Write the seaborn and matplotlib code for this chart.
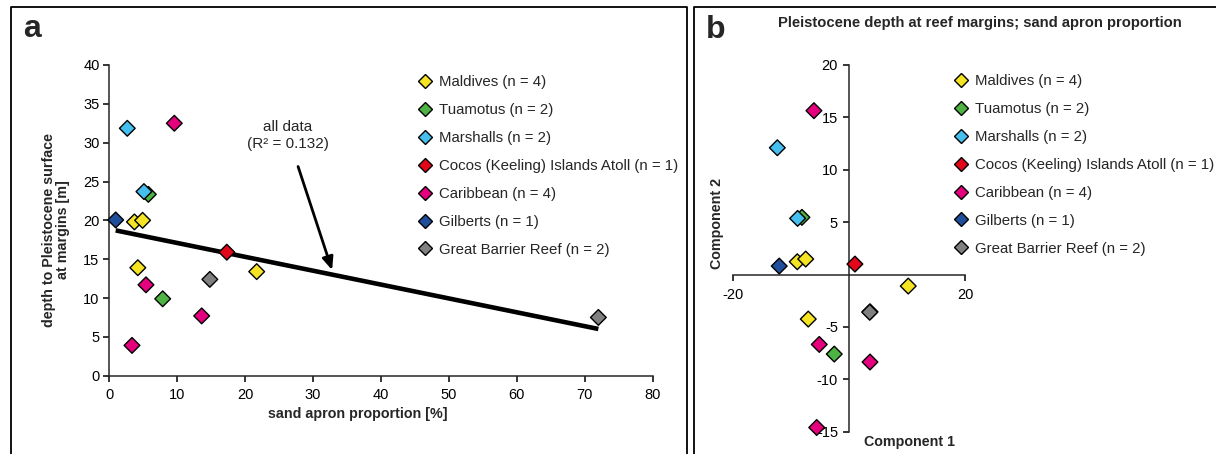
import numpy as np
import pandas as pd
import matplotlib
matplotlib.use("Agg")
import matplotlib.pyplot as plt
from matplotlib.lines import Line2D
import seaborn as sns

# ---- data -------------------------------------------------------------
regions = ["Maldives", "Tuamotus", "Marshalls", "Cocos (Keeling) Islands Atoll",
           "Caribbean", "Gilberts", "Great Barrier Reef"]
region_n = [4, 2, 2, 1, 4, 1, 2]
region_colors = ["#F4E423", "#4DB342", "#45BFEE", "#E3071A",
                 "#E5007D", "#1F4E9B", "#808080"]

# panel a: sand apron proportion [%] vs depth to Pleistocene surface [m]
site_region = ["Maldives", "Maldives", "Maldives", "Maldives",
               "Tuamotus", "Tuamotus",
               "Marshalls", "Marshalls",
               "Cocos (Keeling) Islands Atoll",
               "Caribbean", "Caribbean", "Caribbean", "Caribbean",
               "Gilberts",
               "Great Barrier Reef", "Great Barrier Reef"]
sand_apron = [3.7, 4.9, 4.2, 21.7,
              5.75, 7.86,
              2.65, 5.1,
              17.3,
              9.57, 5.4, 13.6, 3.34,
              0.94,
              14.8, 72.0]
depth_margin = [19.8, 20.0, 13.9, 13.4,
                23.35, 9.9,
                31.85, 23.7,
                15.9,
                32.5, 11.7, 7.7, 3.9,
                20.05,
                12.4, 7.5]

# panel b: principal component scores
component_1 = [-8.96, -7.5, 10.2, -7.06,
               -8.15, -2.57,
               -12.4, -8.9,
               1.0,
               -6.08, -5.16, 3.6, -5.6,
               -12.07,
               3.6, 3.55]
component_2 = [1.22, 1.48, -1.1, -4.25,
               5.46, -7.59,
               12.1, 5.36,
               1.0,
               15.64, -6.67, -8.35, -14.6,
               0.81,
               -3.55, -3.6]

r_squared_label = "all data\n(R\u00b2 = 0.132)"

# ---- style ------------------------------------------------------------
sns.set_style("ticks")
plt.rcParams["font.family"] = ["Liberation Sans", "DejaVu Sans"]
plt.rcParams["axes.linewidth"] = 1.1
plt.rcParams["axes.unicode_minus"] = False

palette = dict(zip(regions, region_colors))
df_a = pd.DataFrame({"region": site_region, "sand": sand_apron, "depth": depth_margin})
df_b = pd.DataFrame({"region": site_region, "pc1": component_1, "pc2": component_2})

W, H = 1216, 454
fig = plt.figure(figsize=(W / 100, H / 100), dpi=100)


def fig_rect(x0, y0, x1, y1):
    """Axes rectangle from pixel corners (top-left origin)."""
    return [x0 / W, 1 - y1 / H, (x1 - x0) / W, (y1 - y0) / H]


tick_fs = 10.5
label_fs = 10.3
scatter_kw = dict(marker="D", s=64, edgecolor="black", linewidth=1.0,
                  hue_order=regions, palette=palette, legend=False,
                  zorder=3, clip_on=False)

# ---- panel a ----------------------------------------------------------
ax_a = fig.add_axes(fig_rect(109.3, 65, 652.7, 375.7))
sns.regplot(data=df_a, x="sand", y="depth", scatter=False, ci=None,
            color="black", line_kws=dict(lw=3.3, solid_capstyle="butt"), ax=ax_a)
sns.scatterplot(data=df_a, x="sand", y="depth", hue="region", ax=ax_a, **scatter_kw)
ax_a.set_xlim(0, 80)
ax_a.set_ylim(0, 40)
ax_a.set_xticks(np.arange(0, 81, 10))
ax_a.set_yticks(np.arange(0, 41, 5))
ax_a.tick_params(labelsize=tick_fs, length=4, width=1.1, direction="out",
                 colors="black")
ax_a.tick_params(axis="x", pad=5)
ax_a.tick_params(axis="y", pad=3)
sns.despine(ax=ax_a)
ax_a.set_xlabel("sand apron proportion [%]", fontsize=label_fs, fontweight="bold",
                ha="center", va="center")
ax_a.xaxis.set_label_coords(0.4577, -0.122)
ax_a.set_ylabel("depth to Pleistocene surface\nat margins [m]", fontsize=label_fs,
                fontweight="bold", ha="center", va="center", linespacing=1.05)
ax_a.yaxis.set_label_coords(-0.098, 0.469)

ax_a.annotate(r_squared_label, xy=(32.8, 13.6), xytext=(26.3, 30.9),
              ha="center", va="center", fontsize=11, linespacing=1.3,
              arrowprops=dict(arrowstyle="-|>,head_length=0.7,head_width=0.3",
                              color="black", lw=2.0, shrinkA=9, shrinkB=0))

# ---- panel b ----------------------------------------------------------
ax_b = fig.add_axes(fig_rect(733.3, 65, 965, 431.7))
sns.scatterplot(data=df_b, x="pc1", y="pc2", hue="region", ax=ax_b, **scatter_kw)
ax_b.set_xlim(-20, 20)
ax_b.set_ylim(-15, 20)
ax_b.set_xticks([-20, 20])
ax_b.set_yticks([-15, -10, -5, 5, 10, 15, 20])
for side in ("top", "right"):
    ax_b.spines[side].set_visible(False)
ax_b.spines["left"].set_position(("data", 0))
ax_b.spines["bottom"].set_position(("data", 0))
ax_b.tick_params(labelsize=tick_fs, length=4, width=1.1, direction="out",
                 colors="black")
ax_b.tick_params(axis="x", pad=6)
ax_b.tick_params(axis="y", pad=4)
ax_b.set_xlabel("Component 1", fontsize=label_fs, fontweight="bold",
                ha="center", va="center")
ax_b.xaxis.set_label_coords(0.7626, -0.028)
ax_b.set_ylabel("Component 2", fontsize=label_fs, fontweight="bold",
                ha="center", va="center")
ax_b.yaxis.set_label_coords(-0.072, 0.569)

# ---- legends ----------------------------------------------------------
handles = [Line2D([], [], linestyle="none", marker="D", markersize=7.6,
                  markerfacecolor=c, markeredgecolor="black", markeredgewidth=1.0)
           for c in region_colors]
labels = [f"{r} (n = {n})" for r, n in zip(regions, region_n)]
legend_kw = dict(loc="upper left", frameon=False, fontsize=10.8, handlelength=0.95,
                 handletextpad=0.45, labelspacing=0.93, borderpad=0,
                 borderaxespad=0, bbox_transform=fig.transFigure)
leg_a = ax_a.legend(handles, labels, bbox_to_anchor=(418 / W, 1 - 75 / H), **legend_kw)
leg_b = ax_b.legend(handles, labels, bbox_to_anchor=(954 / W, 1 - 74 / H), **legend_kw)

# ---- panel frames, letters and title --------------------------------
frame_kw = dict(color="black", lw=1.3, transform=fig.transFigure, clip_on=False)
fig.add_artist(Line2D([11 / W, 11 / W, 687 / W, 687 / W],
                      [0, 1 - 7 / H, 1 - 7 / H, 0], **frame_kw))
fig.add_artist(Line2D([694 / W, 694 / W, 1], [0, 1 - 7 / H, 1 - 7 / H], **frame_kw))

fig.text(23 / W, 1 - 37 / H, "a", fontsize=23, fontweight="bold", ha="left", va="baseline")
fig.text(706 / W, 1 - 38 / H, "b", fontsize=23, fontweight="bold", ha="left", va="baseline")
fig.text(980 / W, 1 - 23 / H, "Pleistocene depth at reef margins; sand apron proportion",
         fontsize=10.6, fontweight="bold", ha="center", va="center")

fig.savefig("out.png", dpi=100)
